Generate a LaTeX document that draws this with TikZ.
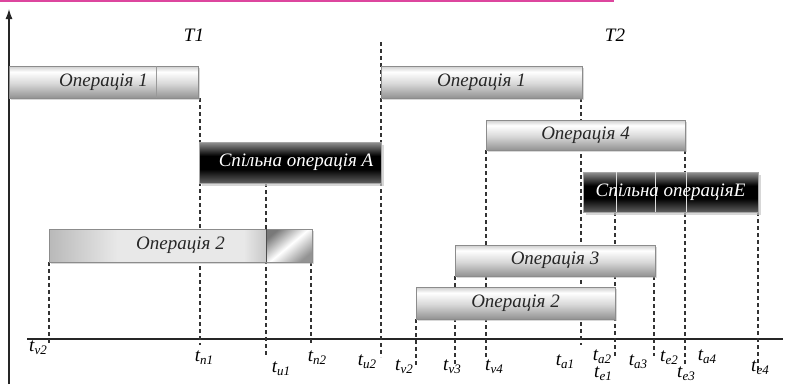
\documentclass[tikz,border=0pt]{standalone}
\usepackage{fontspec}
\setmainfont{Liberation Serif}
\usetikzlibrary{arrows.meta,shadows}

\colorlet{lbBot}{gray!85}
\colorlet{lbMid}{gray!30}
\colorlet{lbTop}{gray!40}
\colorlet{dbBot}{gray!75!black}
\colorlet{dbTop}{gray!85}
\colorlet{opLeft}{gray!55}
\colorlet{opMid}{gray!18}
\colorlet{opRight}{gray!95}

% light bar: light top, bright upper band, darker bottom
\pgfdeclareverticalshading{lightbar}{100bp}{color(0bp)=(lbBot); color(25bp)=(lbBot); color(48bp)=(lbMid); color(66bp)=(white); color(75bp)=(lbTop); color(100bp)=(lbTop)}
% dark bar: grey edges, black core
\pgfdeclareverticalshading{darkbar}{100bp}{color(0bp)=(dbBot); color(25bp)=(dbBot); color(42bp)=(black); color(58bp)=(black); color(75bp)=(dbTop); color(100bp)=(dbTop)}
% long second operation bar: left to right
\pgfdeclarehorizontalshading{opbar}{100bp}{color(0bp)=(opLeft); color(25bp)=(opLeft); color(38bp)=(opMid); color(62bp)=(opMid); color(75bp)=(opRight); color(100bp)=(opRight)}

\newcommand\ticklab[2]{{\fontsize{19}{19}\selectfont\itshape #1}\raisebox{-3pt}{\fontsize{13}{13}\selectfont\itshape #2}}

\tikzset{
  bar/.style={anchor=north west, inner sep=0pt, outer sep=0pt, line width=0.8pt,
    font=\fontsize{19}{21}\selectfont\itshape},
  lbar/.style={bar, draw=gray!90, shading=lightbar, text=black!85,
    drop shadow={shadow xshift=1.5pt, shadow yshift=-1.5pt, fill=gray!60, opacity=0.5}},
  dbar/.style={bar, draw=gray!70, shading=darkbar, text=white,
    drop shadow={shadow xshift=2.5pt, shadow yshift=-2.5pt, fill=gray!45, opacity=0.7}},
  guide/.style={line width=1.1pt, black!80, dash pattern=on 4pt off 3pt},
  axisline/.style={line width=1.2pt, black!85},
  tlab/.style={inner sep=0pt},
  period/.style={inner sep=0pt, font=\fontsize{19}{21}\selectfont\itshape},
  divider/.style={line width=0.8pt, gray!80},
  ldivider/.style={line width=1pt, gray!25},
}

\begin{document}
\begin{tikzpicture}[x=1pt,y=-1pt]
\useasboundingbox (0,0) rectangle (797,384);

% top rule
\draw[line width=2pt, magenta!75!violet!80] (0,1) -- (614,1);

% axes
\coordinate (yb) at (9,384);
\coordinate (yt) at (9,9);
\coordinate (xl) at (27,339);
\coordinate (xr) at (783,339);
\draw[axisline] (xl) -- (xr);
\draw[axisline, -{Latex[length=10pt,width=7pt]}] (yb) -- (yt);

% period labels
\node[period] (T1) at (194,35) {T1};
\node[period] (T2) at (615,35) {T2};

% lower ends of the time marks
\coordinate (e-tv2a) at (49,345);
\coordinate (e-tn1) at (200,345);
\coordinate (e-tu1) at (266,357);
\coordinate (e-tn2) at (311,345);
\coordinate (e-tu2) at (381,357);
\coordinate (s-tu2) at (381,42);
\coordinate (e-tv2b) at (416,366);
\coordinate (e-tv3) at (455,365);
\coordinate (e-tv4) at (486,358);
\coordinate (e-ta1) at (581,345);
\coordinate (e-ta2) at (615,358);
\coordinate (e-ta3) at (654,356);
\coordinate (e-te2) at (685,364);
\coordinate (e-te4) at (758,371);

% top-left corners of the bars
\path (9,66) coordinate (p-op1a) (381,66) coordinate (p-op1b) (486,120) coordinate (p-op4)
      (199,142) coordinate (p-shA) (583,172) coordinate (p-shE) (49,229) coordinate (p-op2a)
      (455,245) coordinate (p-op3) (416,287) coordinate (p-op2b);
% lower edges of the bars, where the marks start
\coordinate (b-op1) at (0,98);
\coordinate (b-op4) at (0,150);
\coordinate (b-shA) at (0,183);
\coordinate (b-shE) at (0,212);
\coordinate (b-op2a) at (0,262);
\coordinate (b-op3) at (0,276);
\coordinate (b-op2b) at (0,319);

% dashed time marks
\draw[guide] (e-tv2a |- b-op2a) -- (e-tv2a);
\draw[guide] (e-tn1 |- b-op1) -- (e-tn1);
\draw[guide] (e-tu1 |- b-shA) -- (e-tu1);
\draw[guide] (e-tn2 |- b-op2a) -- (e-tn2);
\draw[guide] (s-tu2) -- (e-tu2);
\draw[guide] (e-tv2b |- b-op2b) -- (e-tv2b);
\draw[guide] (e-tv3 |- b-op3) -- (e-tv3);
\draw[guide] (e-tv4 |- b-op4) -- (e-tv4);
\draw[guide] (e-ta1 |- b-op1) -- (e-ta1);
\draw[guide] (e-ta2 |- b-shE) -- (e-ta2);
\draw[guide] (e-ta3 |- b-op3) -- (e-ta3);
\draw[guide] (e-te2 |- b-op4) -- (e-te2);
\draw[guide] (e-te4 |- b-shE) -- (e-te4);

% operation bars
\node[lbar, minimum width=189pt, minimum height=32pt] (op1a) at (p-op1a) {Операція 1};
\draw[divider] ([xshift=-42pt]op1a.north east) -- ([xshift=-42pt]op1a.south east);

\node[lbar, minimum width=201pt, minimum height=32pt] (op1b) at (p-op1b) {Операція 1};

\node[lbar, minimum width=199pt, minimum height=30pt] (op4) at (p-op4) {Операція 4};

\node[dbar, minimum width=182pt, minimum height=41pt] (shA) at (p-shA) {\hspace*{12pt}Спільна операція A};

\node[dbar, minimum width=175pt, minimum height=40pt] (shE) at (p-shE) {};
\foreach \dx in {33,72,103}
  \draw[ldivider] ([xshift=\dx pt]shE.north west) -- ([xshift=\dx pt]shE.south west);
\node[bar, text=white, anchor=center] (shEt) at (shE.center) {Спільна операціяE};

\node[bar, draw=gray!90, shading=opbar, minimum width=263pt, minimum height=33pt,
  drop shadow={shadow xshift=1.5pt, shadow yshift=-1.5pt, fill=gray!60, opacity=0.5}] (op2a) at (p-op2a) {};
\shade[top color=gray!95!black, bottom color=gray!85, middle color=white, shading angle=40]
  ([xshift=-46pt]op2a.north east) rectangle (op2a.south east);
\draw[line width=0.8pt, gray!90] (op2a.north west) rectangle (op2a.south east);
\draw[divider, gray!60!black] ([xshift=-46pt]op2a.north east) -- ([xshift=-46pt]op2a.south east);
\node[bar, anchor=center, text=black!85] (op2at) at (op2a.center) {Операція 2};

\node[lbar, minimum width=200pt, minimum height=31pt] (op3) at (p-op3) {Операція 3};

\node[lbar, minimum width=199pt, minimum height=32pt] (op2b) at (p-op2b) {Операція 2};

% time mark labels
\node[tlab] (l-tv2a) at (38,348) {\ticklab{t}{v2}};
\node[tlab] (l-tn1) at (204,358) {\ticklab{t}{n1}};
\node[tlab] (l-tu1) at (281,369) {\ticklab{t}{u1}};
\node[tlab] (l-tn2) at (317,358) {\ticklab{t}{n2}};
\node[tlab] (l-tu2) at (367,362) {\ticklab{t}{u2}};
\node[tlab] (l-tv2b) at (404,367) {\ticklab{t}{v2}};
\node[tlab] (l-tv3) at (452,367) {\ticklab{t}{v3}};
\node[tlab] (l-tv4) at (494,367) {\ticklab{t}{v4}};
\node[tlab] (l-ta1) at (565,362) {\ticklab{t}{a1}};
\node[tlab] (l-ta2) at (602,357) {\ticklab{t}{a2}};
\node[tlab] (l-te1) at (603,373.5) {\ticklab{t}{e1}};
\node[tlab] (l-ta3) at (638,362) {\ticklab{t}{a3}};
\node[tlab] (l-te2) at (669,358) {\ticklab{t}{e2}};
\node[tlab] (l-ta4) at (707,357) {\ticklab{t}{a4}};
\node[tlab] (l-te3) at (686,373.5) {\ticklab{t}{e3}};
\node[tlab] (l-te4) at (760,368) {\ticklab{t}{e4}};
\end{tikzpicture}
\end{document}
